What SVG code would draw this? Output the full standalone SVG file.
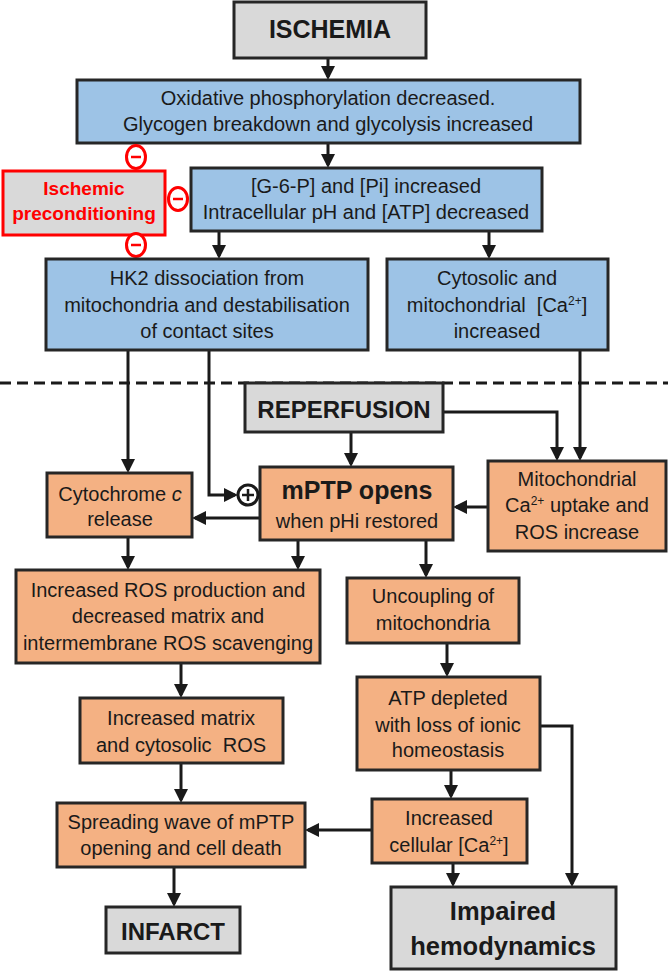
<svg xmlns="http://www.w3.org/2000/svg" width="668" height="971" viewBox="0 0 668 971">
<style>
.box{stroke:#262626;stroke-width:3}
.gray{fill:#d9d9d9}
.blue{fill:#9dc3e6}
.orange{fill:#f4b183}
.t{font-family:"Liberation Sans",Arial,sans-serif;font-size:20px;fill:#1a1a1a;text-anchor:middle}
.b{font-family:"Liberation Sans",Arial,sans-serif;font-weight:bold;font-size:24px;fill:#1a1a1a;text-anchor:middle}
.red{font-family:"Liberation Sans",Arial,sans-serif;font-weight:bold;font-size:19px;fill:#ff0000;text-anchor:middle}
.c{fill:none;stroke:#1a1a1a;stroke-width:3;marker-end:url(#ah)}
.inh{fill:#ffffff;stroke:#ff0000;stroke-width:3}
.sup{font-size:12px}
</style>
<defs>
<marker id="ah" viewBox="0 0 14 14" markerWidth="14" markerHeight="14" refX="11" refY="7" orient="auto" markerUnits="userSpaceOnUse">
<path d="M0,0 L14,7 L0,14 z" fill="#1a1a1a"/>
</marker>
</defs>
<rect width="668" height="971" fill="#ffffff"/>
<line x1="0" y1="383" x2="668" y2="383" stroke="#1a1a1a" stroke-width="3" stroke-dasharray="11 6"/>
<g id="connectors">
<path class="c" d="M328,58 V77"/>
<path class="c" d="M328,143 V165"/>
<path class="c" d="M219,231 V256"/>
<path class="c" d="M489,231 V256"/>
<path class="c" d="M128,350 V470"/>
<path class="c" d="M209,350 V495 H235"/>
<path class="c" d="M351,432 V464"/>
<path class="c" d="M443,412 H557 V458"/>
<path class="c" d="M580,350 V458"/>
<path class="c" d="M488,507 H456"/>
<path class="c" d="M260,518 H195"/>
<path class="c" d="M128,537 V567"/>
<path class="c" d="M298,540 V567"/>
<path class="c" d="M426,540 V575"/>
<path class="c" d="M181,663 V695"/>
<path class="c" d="M447,643 V674"/>
<path class="c" d="M540,726 H572 V884"/>
<path class="c" d="M181,763 V800"/>
<path class="c" d="M451,770 V796"/>
<path class="c" d="M372,830 H308"/>
<path class="c" d="M174,867 V904"/>
<path class="c" d="M453,863 V884"/>
</g>
<g id="ischemia">
<rect class="box gray" x="234" y="2" width="192" height="56"/>
<text class="b" x="330" y="38" style="font-size:25px">ISCHEMIA</text>
</g>
<g id="oxphos">
<rect class="box blue" x="77" y="80" width="503" height="63"/>
<text class="t" x="328" y="105">Oxidative phosphorylation decreased.</text>
<text class="t" x="328" y="131">Glycogen breakdown and glycolysis increased</text>
</g>
<g id="g6p">
<rect class="box blue" x="191" y="168" width="351" height="63"/>
<text class="t" x="366" y="193">[G-6-P] and [Pi] increased</text>
<text class="t" x="366" y="219">Intracellular pH and [ATP] decreased</text>
</g>
<g id="preconditioning">
<rect x="3" y="171" width="162" height="64" fill="#d9d9d9" stroke="#ff0000" stroke-width="3"/>
<text class="red" x="84" y="195">Ischemic</text>
<text class="red" x="84" y="220">preconditioning</text>
<ellipse class="inh" cx="136" cy="157" rx="9.5" ry="11.5"/>
<line x1="131" y1="157" x2="141" y2="157" stroke="#ff0000" stroke-width="2.5"/>
<ellipse class="inh" cx="178" cy="199" rx="9.5" ry="11.5"/>
<line x1="173" y1="199" x2="183" y2="199" stroke="#ff0000" stroke-width="2.5"/>
<ellipse class="inh" cx="136" cy="245" rx="9.5" ry="11.5"/>
<line x1="131" y1="245" x2="141" y2="245" stroke="#ff0000" stroke-width="2.5"/>
</g>
<g id="hk2">
<rect class="box blue" x="46" y="259" width="322" height="91"/>
<text class="t" x="207" y="285">HK2 dissociation from</text>
<text class="t" x="207" y="312">mitochondria and destabilisation</text>
<text class="t" x="207" y="338">of contact sites</text>
</g>
<g id="cytosolic">
<rect class="box blue" x="387" y="259" width="221" height="91"/>
<text class="t" x="497" y="285">Cytosolic and</text>
<text class="t" x="497" y="312" xml:space="preserve">mitochondrial  [Ca<tspan class="sup" dy="-7">2+</tspan><tspan dy="7">]</tspan></text>
<text class="t" x="497" y="338">increased</text>
</g>
<g id="reperfusion">
<rect class="box gray" x="245" y="383" width="198" height="49"/>
<text class="b" x="344" y="418">REPERFUSION</text>
</g>
<g id="cytochrome">
<rect class="box orange" x="47" y="473" width="145" height="64"/>
<text class="t" x="120" y="501">Cytochrome <tspan font-style="italic">c</tspan></text>
<text class="t" x="120" y="526">release</text>
</g>
<g id="mptp">
<rect class="box orange" x="260" y="467" width="193" height="73"/>
<text class="b" x="357" y="499" style="font-size:25px">mPTP opens</text>
<text class="t" x="357" y="528">when pHi restored</text>
<circle cx="248" cy="495" r="10" fill="#ffffff" stroke="#1a1a1a" stroke-width="3"/>
<path d="M242,495 H254 M248,489 V501" stroke="#1a1a1a" stroke-width="2.5"/>
</g>
<g id="mito">
<rect class="box orange" x="488" y="461" width="178" height="90"/>
<text class="t" x="577" y="486">Mitochondrial</text>
<text class="t" x="577" y="512">Ca<tspan class="sup" dy="-7">2+</tspan><tspan dy="7"> uptake and</tspan></text>
<text class="t" x="577" y="539">ROS increase</text>
</g>
<g id="ros">
<rect class="box orange" x="16" y="570" width="304" height="93"/>
<text class="t" x="168" y="597">Increased ROS production and</text>
<text class="t" x="168" y="623">decreased matrix and</text>
<text class="t" x="168" y="650">intermembrane ROS scavenging</text>
</g>
<g id="uncoupling">
<rect class="box orange" x="347" y="578" width="172" height="65"/>
<text class="t" x="433" y="603">Uncoupling of</text>
<text class="t" x="433" y="630">mitochondria</text>
</g>
<g id="matrix">
<rect class="box orange" x="80" y="698" width="203" height="65"/>
<text class="t" x="181" y="725">Increased matrix</text>
<text class="t" x="181" y="752" xml:space="preserve">and cytosolic  ROS</text>
</g>
<g id="atp">
<rect class="box orange" x="357" y="677" width="183" height="93"/>
<text class="t" x="448" y="705">ATP depleted</text>
<text class="t" x="448" y="732">with loss of ionic</text>
<text class="t" x="448" y="757">homeostasis</text>
</g>
<g id="spreading">
<rect class="box orange" x="57" y="803" width="248" height="64"/>
<text class="t" x="181" y="829">Spreading wave of mPTP</text>
<text class="t" x="181" y="855">opening and cell death</text>
</g>
<g id="cellular">
<rect class="box orange" x="372" y="799" width="155" height="64"/>
<text class="t" x="449" y="825">Increased</text>
<text class="t" x="449" y="852">cellular [Ca<tspan class="sup" dy="-7">2+</tspan><tspan dy="7">]</tspan></text>
</g>
<g id="infarct">
<rect class="box gray" x="106" y="907" width="134" height="46"/>
<text class="b" x="173" y="940">INFARCT</text>
</g>
<g id="impaired">
<rect class="box gray" x="391" y="887" width="225" height="82"/>
<text class="b" x="503" y="920" style="font-size:25.5px">Impaired</text>
<text class="b" x="503" y="955" style="font-size:25.5px">hemodynamics</text>
</g>
</svg>
